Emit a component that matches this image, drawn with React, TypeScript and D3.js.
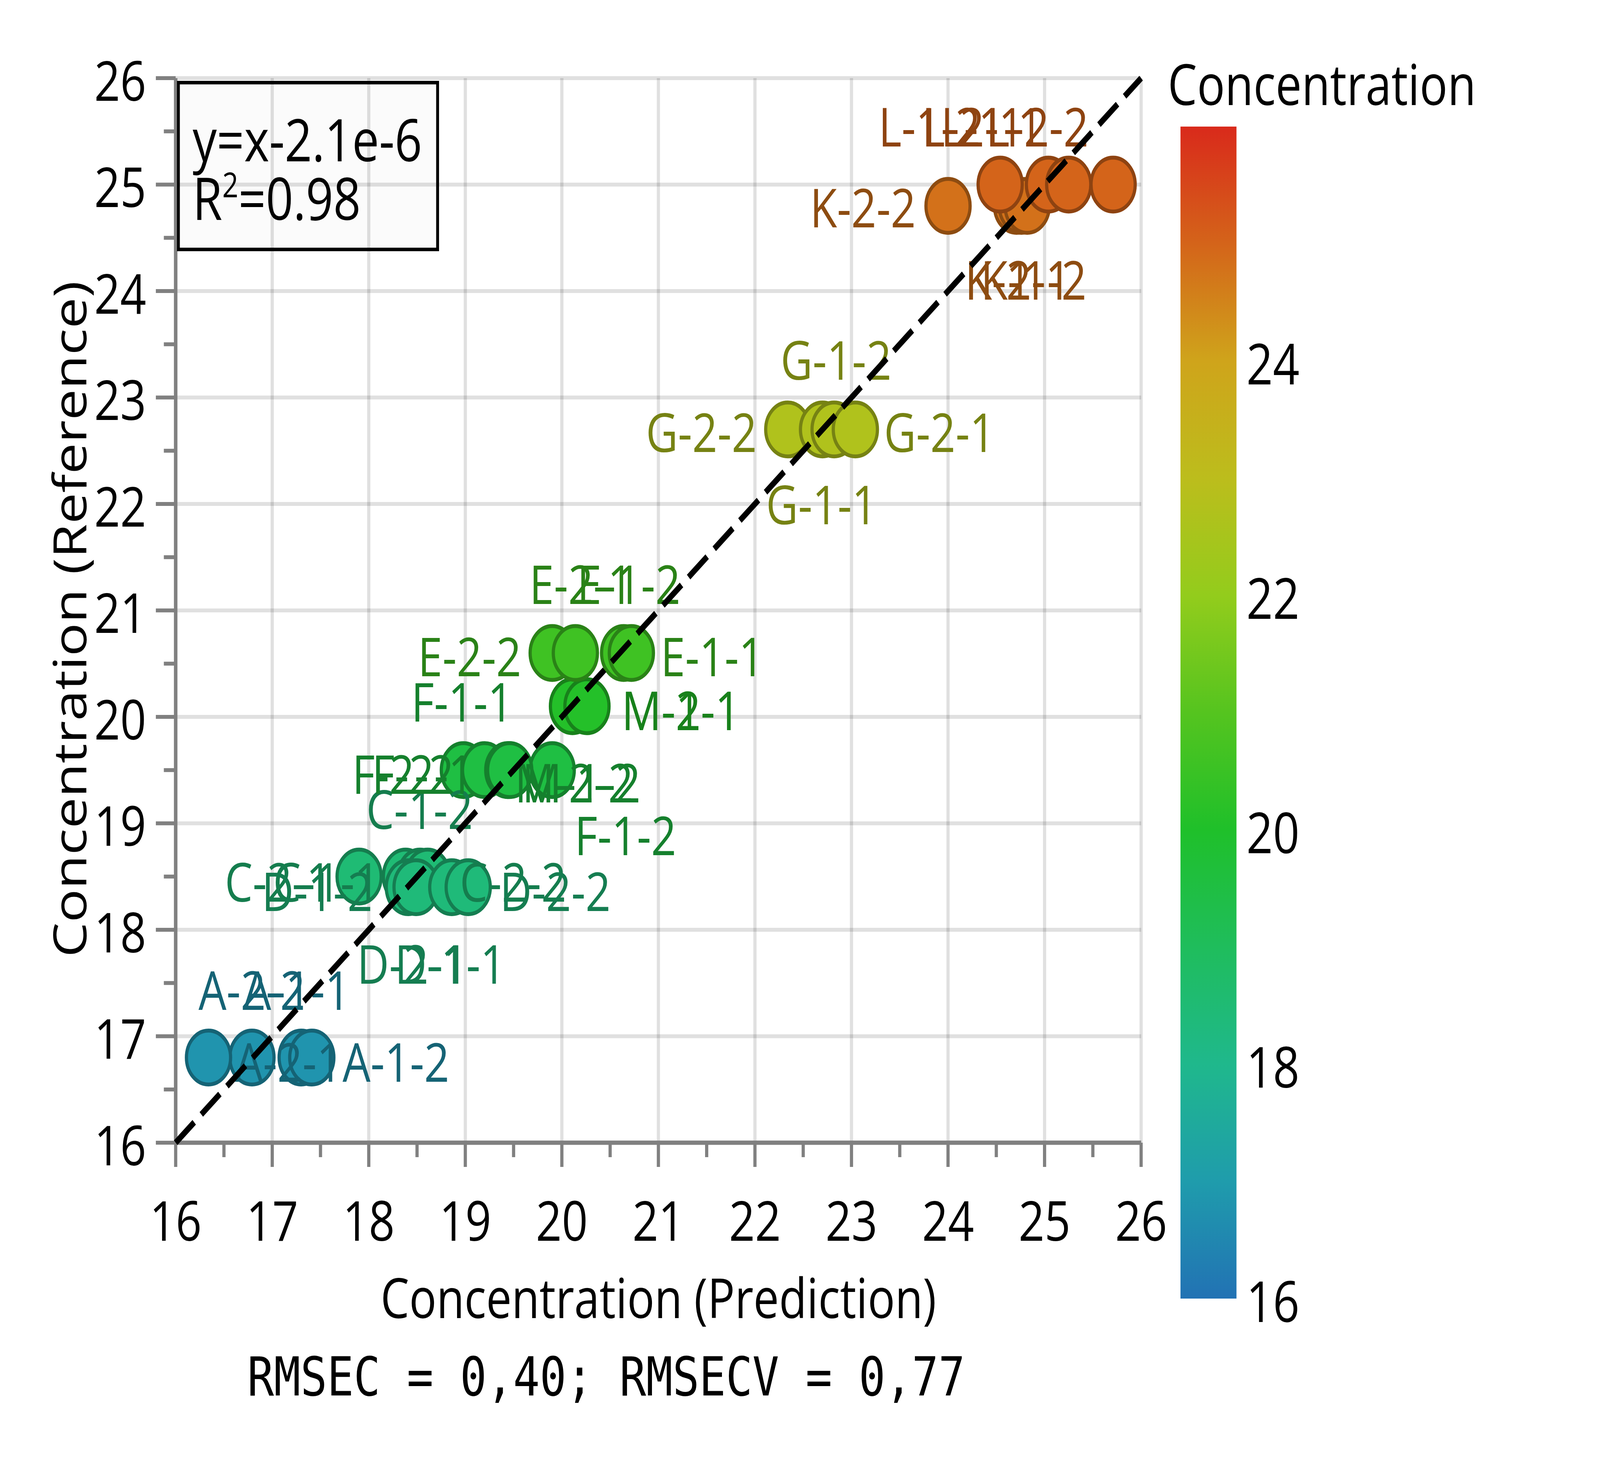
import React from 'react';
import * as d3 from 'd3';

// --- data ---
const SAMPLE_LABELS = [
  'A-2-2', 'A-1-1', 'A-2-1', 'A-1-2',
  'C-2-1', 'C-1-1', 'C-1-2', 'C-2-2',
  'D-1-2', 'D-2-1', 'D-1-1', 'D-2-2',
  'F-1-1', 'F-2-2', 'F-2-1', 'F-1-2',
  'M-2-2', 'M-1-2', 'M-2-1', 'M-1-1',
  'E-2-2', 'E-2-1', 'E-1-2', 'E-1-1',
  'G-2-2', 'G-1-1', 'G-1-2', 'G-2-1',
  'K-2-2', 'K-2-1', 'K-1-1', 'K-1-2',
  'L-1-2', 'L-2-1', 'L-1-1', 'L-2-2',
];
const PREDICTED = [
  16.79, 17.30, 16.34, 17.41,
  17.90, 18.38, 18.53, 18.61,
  18.41, 18.49, 18.86, 19.03,
  18.98, 19.20, 19.45, 19.90,
  19.44, 19.46, 20.11, 20.26,
  19.90, 20.14, 20.64, 20.72,
  22.34, 22.70, 22.82, 23.04,
  24.00, 24.71, 24.76, 24.82,
  24.54, 25.04, 25.25, 25.71,
];
const REFERENCE = [
  16.8, 16.8, 16.8, 16.8,
  18.5, 18.5, 18.5, 18.5,
  18.4, 18.4, 18.4, 18.4,
  19.5, 19.5, 19.5, 19.5,
  19.5, 19.5, 20.1, 20.1,
  20.6, 20.6, 20.6, 20.6,
  22.7, 22.7, 22.7, 22.7,
  24.8, 24.8, 24.8, 24.8,
  25.0, 25.0, 25.0, 25.0,
];
const AXIS_TICKS = [16, 17, 18, 19, 20, 21, 22, 23, 24, 25, 26];
const COLORBAR_TICKS = [16, 18, 20, 22, 24];
const FIT_X = [16, 26];
const FIT_TEXT = 'y=x-2.1e-6';
const FIT_INTERCEPT = -2.1e-6;
const R2 = '0.98';
const RMSE_TEXT = 'RMSEC = 0,40; RMSECV = 0,77';

// colormap stops (value -> colour)
const CMAP_VALUES = [16, 17, 18, 19, 20, 21, 22, 23, 24, 25, 26];
const CMAP_COLORS = [
  '#2272b4', '#1f9cac', '#1fb88c', '#1fbd5c', '#1fc02a', '#55c41f',
  '#93cc1c', '#bcbd1c', '#cfa41b', '#d4641a', '#d92a1b',
];

// label placement (repelled text), pixel offset of each label centre from its point
const LABEL_OFFSET: [number, number][] = [
  [0, -171], [-14, -171], [250, 13], [263, 13],
  [-253, 15], [-247, 15], [-1, -171], [267, 15],
  [-285, 12], [-11, 198], [-5, 198], [272, 12],
  [-4, -173], [-255, 12], [-269, 12], [229, 169],
  [207, 34], [224, 34], [339, 12], [294, 12],
  [-258, 11], [18, -174], [16, -174], [253, 11],
  [-270, 9], [-3, 194], [6, -176], [263, 9],
  [-266, 6], [4, 191], [-11, 191], [20, 191],
  [-221, -146], [-236, -146], [-240, -146], [-236, -146],
];

// drawing is laid out on a 5000 x 3750 frame and stretched to the window
const W = 5000;
const H = 3750;
const FONT = "'Open Sans', 'Noto Sans', sans-serif";
const MONO = "'DejaVu Sans Mono', 'Liberation Mono', monospace";
const AXIS_GRAY = '#808080';

const cmap = d3.scaleLinear<string>().domain(CMAP_VALUES).range(CMAP_COLORS).interpolate(d3.interpolateRgb).clamp(true);
const darken = (c: string) => {
  const r = d3.rgb(c);
  return d3.rgb(r.r * 0.67, r.g * 0.67, r.b * 0.67).formatHex();
};

export default function App() {
  const x = d3.scaleLinear().domain([16, 26]).range([549, 3566]);
  const y = d3.scaleLinear().domain([16, 26]).range([2925, 200]);
  const cb = d3.scaleLinear().domain([16, 26]).range([3324, 324]);
  const [x0, x1] = x.range();
  const [y0, y1] = y.range();
  const minor = d3.range(16.5, 26, 1);

  const points = SAMPLE_LABELS.map((label, i) => ({
    label,
    px: x(PREDICTED[i]),
    py: y(REFERENCE[i]),
    fill: cmap(REFERENCE[i]),
    dark: darken(cmap(REFERENCE[i])),
    off: LABEL_OFFSET[i],
  }));

  const fitLine = d3.line<number>().x(d => x(d)).y(d => y(d + FIT_INTERCEPT))(FIT_X) ?? '';

  return (
    <svg viewBox={`0 0 ${W} ${H}`} preserveAspectRatio="none"
      style={{ position: 'fixed', left: 0, top: 0, width: '100vw', height: '100vh', background: '#fff' }}
      fontFamily={FONT}>
      <defs>
        <linearGradient id="cbar" x1="0" y1="1" x2="0" y2="0">
          {CMAP_VALUES.map((v, i) => (
            <stop key={v} offset={(v - 16) / 10} stopColor={CMAP_COLORS[i]} />
          ))}
        </linearGradient>
      </defs>
      <rect width={W} height={H} fill="#fff" />

      {/* grid */}
      <g stroke="#000" strokeOpacity={0.12} strokeWidth={10}>
        {AXIS_TICKS.map(t => <line key={'gx' + t} x1={x(t)} x2={x(t)} y1={y1} y2={y0} />)}
        {AXIS_TICKS.map(t => <line key={'gy' + t} x1={x0} x2={x1} y1={y(t)} y2={y(t)} />)}
      </g>

      {/* axes */}
      <g stroke={AXIS_GRAY} strokeWidth={10}>
        <line x1={x0} x2={x1} y1={y0} y2={y0} strokeWidth={11} />
        <line x1={x0} x2={x0} y1={y0} y2={y1} strokeWidth={11} />
        {AXIS_TICKS.map(t => <line key={'tx' + t} x1={x(t)} x2={x(t)} y1={y0} y2={y0 + 62} />)}
        {minor.map(t => <line key={'mx' + t} x1={x(t)} x2={x(t)} y1={y0} y2={y0 + 37} />)}
        {AXIS_TICKS.map(t => <line key={'ty' + t} x1={x0} x2={x0 - 62} y1={y(t)} y2={y(t)} />)}
        {minor.map(t => <line key={'my' + t} x1={x0} x2={x0 - 37} y1={y(t)} y2={y(t)} />)}
      </g>
      <g fontSize={142} fill="#000">
        {AXIS_TICKS.map(t => (
          <text key={'lx' + t} x={x(t)} y={3176} textAnchor="middle">{t}</text>
        ))}
        {AXIS_TICKS.map(t => (
          <text key={'ly' + t} x={457} y={y(t) + 58} textAnchor="end">{t}</text>
        ))}
        <text x={(x0 + x1) / 2} y={3374} textAnchor="middle">Concentration (Prediction)</text>
        <text transform="translate(270,1585) rotate(-90)" textAnchor="middle">Concentration (Reference)</text>
      </g>

      {/* points */}
      <g strokeWidth={10}>
        {points.map((p, i) => (
          <circle key={i} cx={p.px} cy={p.py} r={69} fill={p.fill} stroke={p.dark} />
        ))}
      </g>
      <g fontSize={138} textAnchor="middle">
        {points.map((p, i) => (
          <text key={i} x={p.px + p.off[0]} y={p.py + p.off[1] + 49} fill={p.dark}>{p.label}</text>
        ))}
      </g>

      {/* fit line */}
      <path d={fitLine} fill="none" stroke="#000" strokeWidth={16} strokeDasharray="78 30" />

      {/* fit box */}
      <rect x={557.5} y={211.5} width={810} height={427} fill="#000" fillOpacity={0.015}
        stroke="#000" strokeWidth={9} />
      <g fontSize={150} fill="#000">
        <text x={602} y={413}>{FIT_TEXT}</text>
        <text x={602} y={563}>R<tspan fontSize={88} dy={-58}>2</tspan><tspan dy={58}>={R2}</tspan></text>
      </g>

      {/* colorbar */}
      <rect x={3689} y={cb(26)} width={175} height={cb(16) - cb(26)} fill="url(#cbar)" />
      <g fontSize={145} fill="#000">
        {COLORBAR_TICKS.map(t => (
          <text key={'cb' + t} x={3895} y={cb(t) + 60}>{t}</text>
        ))}
        <text x={4131} y={269} textAnchor="middle">Concentration</text>
      </g>

      <text x={773} y={3572} fontFamily={MONO} fontSize={138} fill="#000" xmlSpace="preserve">{RMSE_TEXT}</text>
    </svg>
  );
}
